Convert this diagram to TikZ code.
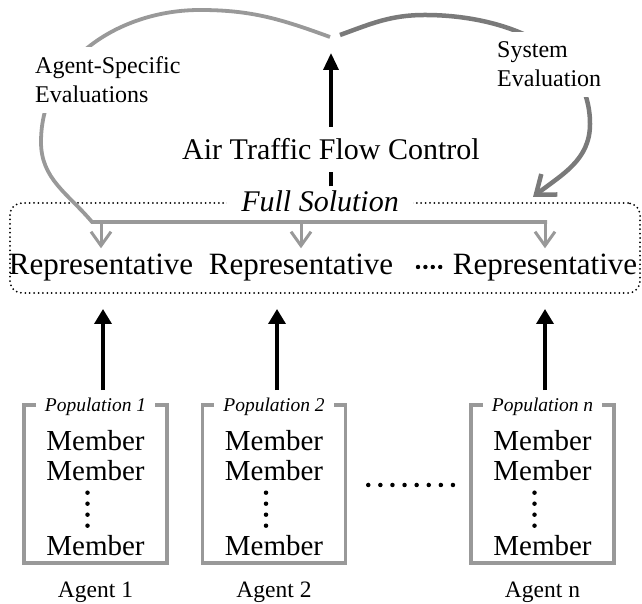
\documentclass[tikz,border=0pt]{standalone}
\usepackage{fontspec}
\setmainfont{Liberation Serif}
\usepackage{xcolor}
\definecolor{lightline}{RGB}{153,153,153}
\definecolor{darkline}{RGB}{122,122,122}
\usepackage{tikz}
\usetikzlibrary{arrows.meta,positioning}

\begin{document}
\begin{tikzpicture}[
  x=1pt, y=1pt,
  title/.style={font=\fontsize{30}{36}\selectfont, inner sep=12pt},
  solution/.style={font=\fontsize{30}{36}\selectfont\itshape, fill=white, inner xsep=14pt, inner ysep=4.5pt},
  solbox/.style={draw, line width=2pt, line cap=round, dash pattern=on 0pt off 4.4pt, rounded corners=12pt, minimum width=630pt, minimum height=90pt},
  rep/.style={font=\fontsize{31}{37}\selectfont, inner sep=6pt},
  evaltext/.style={font=\fontsize{24}{29}\selectfont, align=left, fill=white, inner xsep=7pt, inner ysep=10pt, anchor=north west},
  popbox/.style={draw=lightline, line width=3.5pt, minimum width=143pt, minimum height=158pt},
  poplabel/.style={font=\fontsize{19.5}{23}\selectfont\itshape, fill=white, inner xsep=9pt, inner ysep=1pt},
  member/.style={font=\fontsize{29}{30}\selectfont, align=center, inner sep=0pt},
  agent/.style={font=\fontsize{23.5}{28}\selectfont, inner sep=0pt},
  dotrow/.style={line width=4.5pt, line cap=round},
  evalleft/.style={draw=lightline, line width=3.8pt},
  evalright/.style={draw=darkline, line width=4.5pt, -{Straight Barb[length=17pt, width=26pt]}},
  uparrow/.style={-{Triangle[length=15pt, width=17pt]}, line width=3.5pt, shorten <=13pt, shorten >=15pt},
  downarrow/.style={draw=lightline, line width=3pt, -{Straight Barb[length=14pt, width=20pt]}}
]
\useasboundingbox (0,0) rectangle (642,604);

% full solution
\node[solbox] (solbox) at (325,356) {};
\node[solution, anchor=base] (fullsol) at (320,392) {Full Solution};
\node[title, anchor=base] (atfc) at (331,444) {Air Traffic Flow Control};

\node[rep, anchor=base] (rep1) at (101,329) {Representative};
\node[rep, anchor=base] (rep2) at (301,329) {Representative};
\node[rep, anchor=base] (rep3) at (545,329) {Representative};
\draw[dotrow, line width=4.4pt, dash pattern=on 0pt off 7.4pt] (418,337) -- (441,337);

% evaluation loops
\coordinate (apex) at (331,551);
\coordinate (lefttop) at (330,567);
\coordinate (righttop) at (340,569);
\coordinate (bar) at (92,382);
\coordinate (sysend) at (533,407);

\draw[evalleft] (lefttop) to[out=160, in=0] (200,594) to[out=180, in=90] (41,462)
  to[out=-90, in=130] (bar) -- ([xshift=2pt]rep3.north |- bar);
\draw[evalright] (righttop) to[out=20, in=180] (425,589) to[out=0, in=90] (590,480)
  to[out=-90, in=38] (sysend);

\node[evaltext] (agenteval) at (28,557.5) {Agent-Specific\\Evaluations};
\node[evaltext] (syseval) at (490,572.5) {System\\Evaluation};

\draw[line width=3.5pt] (fullsol.north -| atfc) -- (atfc.south);
\draw[line width=3.5pt, -{Triangle[length=17pt, width=15pt]}] (atfc.north) -- (apex);

\draw[downarrow] (rep1.north |- bar) -- (rep1.north);
\draw[downarrow] (rep2.north |- bar) -- (rep2.north);
\draw[downarrow] (rep3.north |- bar) -- (rep3.north);

% populations
\node[popbox] (pop1) at (95.5,120) {};
\node[popbox] (pop2) at (274,120) {};
\node[popbox] (popn) at (542.5,120) {};

\node[poplabel] (lab1) at ([yshift=-4pt]pop1.north) {Population 1};
\node[poplabel] (lab2) at ([yshift=-4pt]pop2.north) {Population 2};
\node[poplabel] (labn) at ([yshift=-4pt]popn.north) {Population n};

\node[member] (mem1) at ([yshift=-8.7pt]pop1.center) {Member\\Member\\[45pt]Member};
\node[member] (mem2) at ([yshift=-8.7pt]pop2.center) {Member\\Member\\[45pt]Member};
\node[member] (memn) at ([yshift=-8.7pt]popn.center) {Member\\Member\\[45pt]Member};

\draw[dotrow, dash pattern=on 0pt off 11pt] ([xshift=-8pt]mem1.center) -- ([xshift=-8pt, yshift=-34pt]mem1.center);
\draw[dotrow, dash pattern=on 0pt off 11pt] ([xshift=-8pt]mem2.center) -- ([xshift=-8pt, yshift=-34pt]mem2.center);
\draw[dotrow, dash pattern=on 0pt off 11pt] ([xshift=-8pt]memn.center) -- ([xshift=-8pt, yshift=-34pt]memn.center);
\draw[dotrow, dash pattern=on 0pt off 12.1pt] ([xshift=21pt, yshift=-1pt]pop2.east) -- ([xshift=-15pt, yshift=-1pt]popn.west);

\node[agent, below=17pt of pop1] (agent1) {Agent 1};
\node[agent, below=17pt of pop2] (agent2) {Agent 2};
\node[agent, below=17pt of popn] (agentn) {Agent n};

\draw[uparrow] ([xshift=7.5pt]pop1.north) -- ([xshift=7.5pt]pop1.north |- solbox.south);
\draw[uparrow] ([xshift=3pt]pop2.north) -- ([xshift=3pt]pop2.north |- solbox.south);
\draw[uparrow] ([xshift=2.5pt]popn.north) -- ([xshift=2.5pt]popn.north |- solbox.south);
\end{tikzpicture}
\end{document}
